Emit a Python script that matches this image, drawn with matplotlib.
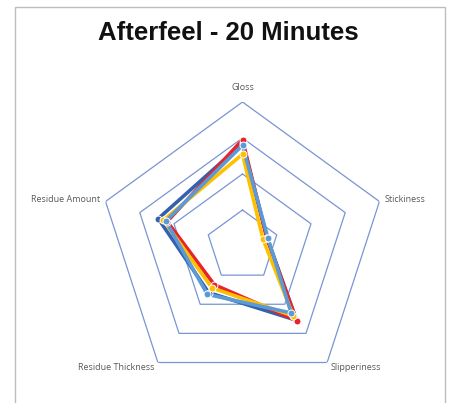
import numpy as np
import matplotlib.pyplot as plt
from matplotlib.patches import Rectangle

categories = ['Gloss', 'Stickiness', 'Slipperiness', 'Residue Thickness', 'Residue Amount']
series_names = ['Sample A', 'Sample B', 'Sample C', 'Sample D']
dark_blue = [2.85, 0.72, 2.55, 1.60, 2.46]
red = [2.95, 0.71, 2.56, 1.33, 2.20]
yellow = [2.55, 0.60, 2.40, 1.44, 2.31]
light_blue = [2.80, 0.74, 2.30, 1.66, 2.24]
ring_levels = [1, 2, 3, 4]

colors = ['#3560B0', '#E8232A', '#FFC000', '#5B9BD5']
data = [dark_blue, red, yellow, light_blue]

fig = plt.figure(figsize=(4.5, 4.03), dpi=100)
fig.patches.append(Rectangle((15 / 450, -0.1), 430 / 450, 1 - 7 / 403 + 0.1,
                             transform=fig.transFigure, fill=False,
                             edgecolor='#BDBDBD', lw=1.0))

fig.text(0.508, 1 - 33 / 403, 'Afterfeel - 20 Minutes', ha='center', va='center',
         fontsize=18.5, fontweight='bold', family='Liberation Sans', color='#111111')

ax = fig.add_axes([98.5 / 450, 13 / 403, 288 / 450, 288 / 403], projection='polar')
ax.set_theta_offset(np.pi / 2)
ax.set_theta_direction(-1)
ax.set_ylim(0, 4)
ax.axis('off')

n = len(categories)
theta = np.linspace(0, 2 * np.pi, n, endpoint=False)
theta_c = np.append(theta, theta[0])

for lv in ring_levels:
    ax.plot(theta_c, [lv] * (n + 1), color='#7895D3', lw=0.9, zorder=1)

for vals, c in zip(data, colors):
    v = vals + vals[:1]
    ax.plot(theta_c, v, color=c, lw=2.6, zorder=3, solid_joinstyle='round')
    ax.plot(theta, vals, 'o', color=c, ms=5, mec='white', mew=0.7, zorder=4)

label_pos = [(243, 88, 'center'), (385, 199, 'left'), (331, 367, 'left'),
             (155, 367, 'right'), (100, 199, 'right')]
for cat, (x, y, ha) in zip(categories, label_pos):
    fig.text(x / 450, 1 - y / 403, cat, ha=ha, va='center', fontsize=6.5,
             color='#595959', family='Open Sans')

fig.savefig('out.png', dpi=100)
